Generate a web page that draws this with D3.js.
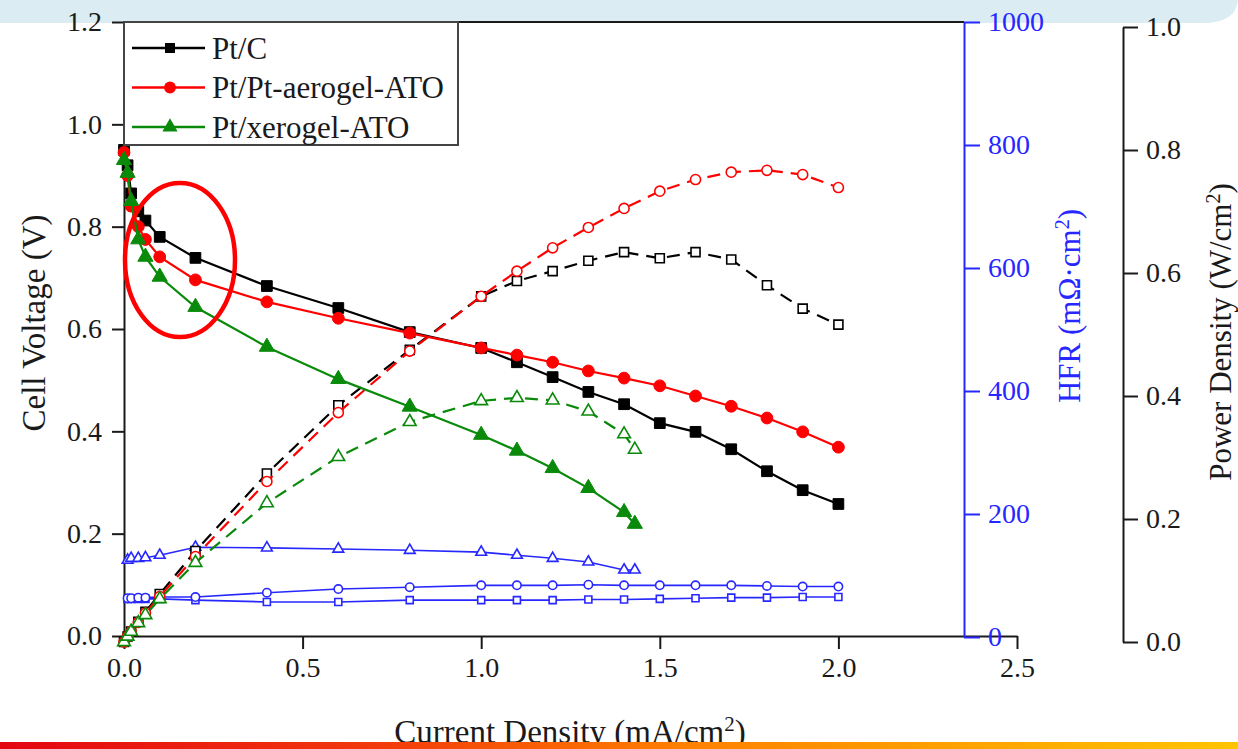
<!DOCTYPE html>
<html>
<head>
<meta charset="utf-8">
<script src="https://cdn.jsdelivr.net/npm/d3@7"></script>
<style>
  body { margin: 0; background: #fff; }
  svg { display: block; font-family: "Liberation Serif", "Times New Roman", serif; }
</style>
</head>
<body>
<script>
// current density (mA/cm2)
const current = [0, 0.01, 0.02, 0.04, 0.06, 0.1, 0.2, 0.4, 0.6, 0.8, 1.0, 1.1, 1.2, 1.3, 1.4, 1.5, 1.6, 1.7, 1.8, 1.9, 2.0];
const currentXerogel = [0, 0.01, 0.02, 0.04, 0.06, 0.1, 0.2, 0.4, 0.6, 0.8, 1.0, 1.1, 1.2, 1.3, 1.4, 1.43];
const hfrCurrent = [0.01, 0.02, 0.04, 0.06, 0.1, 0.2, 0.4, 0.6, 0.8, 1.0, 1.1, 1.2, 1.3, 1.4, 1.5, 1.6, 1.7, 1.8, 1.9, 2.0];
const hfrCurrentXerogel = [0.01, 0.02, 0.04, 0.06, 0.1, 0.2, 0.4, 0.6, 0.8, 1.0, 1.1, 1.2, 1.3, 1.4, 1.43];

// cell voltage (V)
const voltagePtC = [0.95, 0.92, 0.865, 0.83, 0.812, 0.78, 0.739, 0.684, 0.641, 0.594, 0.563, 0.535, 0.506, 0.477, 0.453, 0.416, 0.399, 0.365, 0.322, 0.285, 0.258];
const voltageAerogel = [0.945, 0.9, 0.84, 0.8, 0.775, 0.741, 0.696, 0.653, 0.621, 0.592, 0.563, 0.549, 0.535, 0.518, 0.504, 0.489, 0.469, 0.449, 0.426, 0.399, 0.369];
const voltageXerogel = [0.93, 0.905, 0.85, 0.775, 0.741, 0.702, 0.643, 0.565, 0.502, 0.448, 0.393, 0.362, 0.328, 0.289, 0.242, 0.219];

// power density (W/cm2)
const powerPtC = [0, 0.009, 0.017, 0.033, 0.049, 0.078, 0.148, 0.274, 0.385, 0.475, 0.562, 0.587, 0.603, 0.62, 0.634, 0.624, 0.634, 0.622, 0.58, 0.542, 0.516];
const powerAerogel = [0, 0.009, 0.017, 0.032, 0.047, 0.074, 0.139, 0.261, 0.373, 0.473, 0.562, 0.603, 0.641, 0.674, 0.705, 0.733, 0.752, 0.764, 0.767, 0.76, 0.739];
const powerXerogel = [0, 0.009, 0.017, 0.031, 0.044, 0.07, 0.129, 0.226, 0.301, 0.358, 0.392, 0.397, 0.393, 0.375, 0.338, 0.313];

// HFR (mOhm cm2)
const hfrPtC = [62, 62, 62, 62, 62, 60, 57, 57, 60, 60, 60, 60, 61, 61, 62, 63, 64, 64, 65, 65];
const hfrAerogel = [63, 63, 64, 64, 65, 65, 72, 78, 81, 84, 84, 84, 85, 84, 84, 84, 84, 83, 82, 82];
const hfrXerogel = [125, 128, 128, 129, 133, 146, 145, 143, 141, 138, 133, 128, 122, 109, 109];

const legendNames = ["Pt/C", "Pt/Pt-aerogel-ATO", "Pt/xerogel-ATO"];
const xTicks = [0, 0.5, 1.0, 1.5, 2.0, 2.5];
const vTicks = [0, 0.2, 0.4, 0.6, 0.8, 1.0, 1.2];
const hfrTicks = [0, 200, 400, 600, 800, 1000];
const pTicks = [0, 0.2, 0.4, 0.6, 0.8, 1.0];

const BLACK = "#000", RED = "#ff0000", GREEN = "#0a8a0a", BLUE = "#2727ff";
const FONT = "'Liberation Serif', 'Times New Roman', serif";

const width = 1238, height = 749;
const svg = d3.select("body").append("svg").attr("width", width).attr("height", height);

// slide decoration at the top
svg.append("path")
  .attr("d", "M0,0H1238V0Q1236,23 1203,23H0Z")
  .attr("fill", "#dbedf3");

const x = d3.scaleLinear().domain([0, 2.5]).range([124, 1017]);
const yV = d3.scaleLinear().domain([0, 1.2]).range([636, 22]);
const yR = d3.scaleLinear().domain([0, 1000]).range([637, 22]);
const yP = d3.scaleLinear().domain([0, 1]).range([642, 27]);

function styleAxis(g, color, size) {
  g.attr("font-family", FONT);
  g.select(".domain").attr("stroke", color).attr("stroke-width", 2);
  g.selectAll(".tick line").attr("stroke", color).attr("stroke-width", 2);
  g.selectAll(".tick text").attr("fill", color).style("font-size", size + "px");
}

// x axis
svg.append("g")
  .attr("transform", "translate(0,636)")
  .call(d3.axisBottom(x).tickValues(xTicks).tickFormat(d3.format(".1f")).tickSize(13).tickSizeOuter(0).tickPadding(8))
  .call((g) => styleAxis(g, "#1a1a1a", 28));

// top border
svg.append("line")
  .attr("x1", 124).attr("x2", 964).attr("y1", 22).attr("y2", 22)
  .attr("stroke", "#1a1a1a").attr("stroke-width", 2);

// left axis
svg.append("g")
  .attr("transform", "translate(124,0)")
  .call(d3.axisLeft(yV).tickValues(vTicks).tickFormat(d3.format(".1f")).tickSize(12).tickSizeOuter(0).tickPadding(10))
  .call((g) => styleAxis(g, "#1a1a1a", 28));

// HFR axis
svg.append("g")
  .attr("transform", "translate(964,0)")
  .call(d3.axisRight(yR).tickValues(hfrTicks).tickFormat(d3.format("d")).tickSize(16).tickSizeOuter(0).tickPadding(8))
  .call((g) => styleAxis(g, BLUE, 28));

// power axis
svg.append("g")
  .attr("transform", "translate(1123,0)")
  .call(d3.axisRight(yP).tickValues(pTicks).tickFormat(d3.format(".1f")).tickSize(15).tickSizeOuter(0).tickPadding(8))
  .call((g) => styleAxis(g, "#1a1a1a", 28));

// axis titles
svg.append("text")
  .attr("transform", "translate(45,323) rotate(-90)")
  .attr("text-anchor", "middle").style("font-size", "33px").attr("fill", "#1a1a1a")
  .text("Cell Voltage (V)");

const hfrTitle = svg.append("text")
  .attr("transform", "translate(1080,306) rotate(-90)")
  .attr("text-anchor", "middle").style("font-size", "31px").attr("fill", BLUE);
hfrTitle.append("tspan").text("HFR (mΩ·cm");
hfrTitle.append("tspan").attr("baseline-shift", "super").style("font-size", "20px").text("2");
hfrTitle.append("tspan").text(")");

const pTitle = svg.append("text")
  .attr("transform", "translate(1231,332) rotate(-90)")
  .attr("text-anchor", "middle").style("font-size", "31px").attr("fill", "#1a1a1a");
pTitle.append("tspan").text("Power Density (W/cm");
pTitle.append("tspan").attr("baseline-shift", "super").style("font-size", "20px").text("2");
pTitle.append("tspan").text(")");

const xTitle = svg.append("text")
  .attr("x", 570).attr("y", 743)
  .attr("text-anchor", "middle").style("font-size", "33px").attr("fill", "#1a1a1a");
xTitle.append("tspan").text("Current Density (mA/cm");
xTitle.append("tspan").attr("baseline-shift", "super").style("font-size", "21px").text("2");
xTitle.append("tspan").text(")");

// series
function drawSeries(xs, ys, yScale, o) {
  const pts = xs.map((d, i) => [d, ys[i]]);
  const line = d3.line().x((d) => x(d[0])).y((d) => yScale(d[1]));
  svg.append("path")
    .datum(pts)
    .attr("d", line)
    .attr("fill", "none")
    .attr("stroke", o.color)
    .attr("stroke-width", o.lineWidth)
    .attr("stroke-dasharray", o.dash || null);
  svg.append("g").selectAll("path")
    .data(pts)
    .join("path")
    .attr("transform", (d) => `translate(${x(d[0])},${yScale(d[1])})`)
    .attr("d", d3.symbol().type(o.symbol).size(o.size))
    .attr("fill", o.filled ? o.color : "#fff")
    .attr("stroke", o.color)
    .attr("stroke-width", o.filled ? 1 : 1.6);
}

// HFR
drawSeries(hfrCurrent, hfrPtC, yR, { color: BLUE, lineWidth: 1.6, symbol: d3.symbolSquare, size: 49, filled: false });
drawSeries(hfrCurrent, hfrAerogel, yR, { color: BLUE, lineWidth: 1.6, symbol: d3.symbolCircle, size: 55, filled: false });
drawSeries(hfrCurrentXerogel, hfrXerogel, yR, { color: BLUE, lineWidth: 1.6, symbol: d3.symbolTriangle, size: 50, filled: false });

// power density
drawSeries(current, powerPtC, yP, { color: BLACK, lineWidth: 2.2, dash: "13,8", symbol: d3.symbolSquare, size: 81, filled: false });
drawSeries(current, powerAerogel, yP, { color: RED, lineWidth: 2.2, dash: "13,8", symbol: d3.symbolCircle, size: 80, filled: false });
drawSeries(currentXerogel, powerXerogel, yP, { color: GREEN, lineWidth: 2.2, dash: "13,8", symbol: d3.symbolTriangle, size: 70, filled: false });

// polarization
drawSeries(current, voltagePtC, yV, { color: BLACK, lineWidth: 2.2, symbol: d3.symbolSquare, size: 115, filled: true });
drawSeries(current, voltageAerogel, yV, { color: RED, lineWidth: 2.2, symbol: d3.symbolCircle, size: 110, filled: true });
drawSeries(currentXerogel, voltageXerogel, yV, { color: GREEN, lineWidth: 2.2, symbol: d3.symbolTriangle, size: 100, filled: true });

// legend
const legend = svg.append("g");
legend.append("rect")
  .attr("x", 124).attr("y", 22).attr("width", 334).attr("height", 123)
  .attr("fill", "#fff").attr("stroke", "#444").attr("stroke-width", 2);
const legendStyle = [
  { color: BLACK, symbol: d3.symbolSquare, size: 100 },
  { color: RED, symbol: d3.symbolCircle, size: 110 },
  { color: GREEN, symbol: d3.symbolTriangle, size: 100 },
];
legendNames.forEach((name, i) => {
  const cy = 48 + i * 39.5;
  legend.append("line").attr("x1", 132).attr("x2", 205).attr("y1", cy).attr("y2", cy)
    .attr("stroke", legendStyle[i].color).attr("stroke-width", 2.5);
  legend.append("path").attr("transform", `translate(170,${cy})`)
    .attr("d", d3.symbol().type(legendStyle[i].symbol).size(legendStyle[i].size))
    .attr("fill", legendStyle[i].color);
  legend.append("text").attr("x", 212).attr("y", cy).attr("dy", "0.35em")
    .style("font-size", "31px").attr("fill", "#1a1a1a").text(name);
});

// red annotation ellipse
svg.append("ellipse")
  .attr("cx", 180).attr("cy", 260).attr("rx", 55).attr("ry", 77)
  .attr("fill", "none").attr("stroke", "#ff0000").attr("stroke-width", 4.5);

// slide decoration at the bottom
const grad = svg.append("defs").append("linearGradient").attr("id", "bar");
[[0, "#e30613"], [0.3, "#f2380c"], [0.55, "#ff8000"], [1, "#ffc400"]].forEach(([o, c]) => {
  grad.append("stop").attr("offset", o).attr("stop-color", c);
});
svg.append("rect").attr("x", 0).attr("y", 742).attr("width", width).attr("height", 7).attr("fill", "url(#bar)");
</script>
</body>
</html>
